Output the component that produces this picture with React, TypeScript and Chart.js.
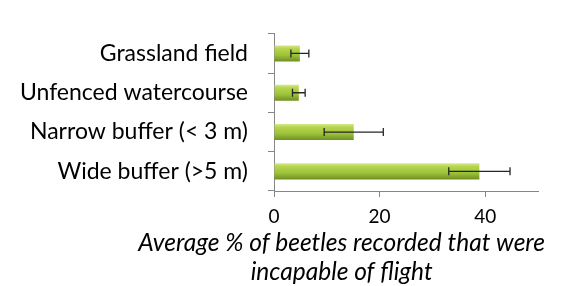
import React, { useEffect, useRef } from "react";
import { Chart, registerables } from "chart.js";

Chart.register(...registerables);

const categories = ["Grassland field", "Unfenced watercourse", "Narrow buffer (< 3 m)", "Wide buffer (>5 m)"];
const values = [4.9, 4.7, 15.1, 38.9];
const errors = [1.7, 1.2, 5.6, 5.8];
const xTicks = [0, 20, 40];
const titleLines = ["Average % of beetles recorded that were", "incapable of flight"];

const FONT = "Lato, 'Open Sans', sans-serif";
const BAR_PCT = 0.41;

const errorBarPlugin = {
  id: "errorBars",
  afterDatasetsDraw(chart: any) {
    const ctx = chart.ctx;
    const meta = chart.getDatasetMeta(0);
    const xs = chart.scales.x;
    ctx.save();
    ctx.strokeStyle = "#262626";
    ctx.lineWidth = 1.3;
    meta.data.forEach((bar: any, i: number) => {
      const y = bar.y;
      const x1 = xs.getPixelForValue(values[i] - errors[i]);
      const x2 = xs.getPixelForValue(values[i] + errors[i]);
      ctx.beginPath();
      ctx.moveTo(x1, y);
      ctx.lineTo(x2, y);
      ctx.moveTo(x1, y - 4);
      ctx.lineTo(x1, y + 4);
      ctx.moveTo(x2, y - 4);
      ctx.lineTo(x2, y + 4);
      ctx.stroke();
    });
    ctx.restore();
  },
};

const axisTitlePlugin = {
  id: "axisTitle",
  afterDraw(chart: any) {
    const ctx = chart.ctx;
    const xs = chart.scales.x;
    ctx.save();
    ctx.font = "italic 24.5px " + FONT;
    ctx.fillStyle = "#000";
    ctx.textAlign = "center";
    ctx.textBaseline = "middle";
    const w = Math.max(...titleLines.map((t) => ctx.measureText(t).width));
    let cx = (xs.left + xs.right) / 2;
    const maxCx = chart.width - 23 - w / 2;
    if (cx > maxCx) cx = maxCx;
    titleLines.forEach((t, i) => {
      ctx.fillText(t, cx, xs.bottom - 43 + i * 29);
    });
    ctx.restore();
  },
};

export default function App() {
  const ref = useRef<HTMLCanvasElement | null>(null);
  useEffect(() => {
    const canvas = ref.current!;
    const chart = new Chart(canvas, {
      type: "bar",
      data: {
        labels: categories,
        datasets: [
          {
            data: values,
            backgroundColor: (c: any) => {
              const ch = c.chart;
              const ys = ch.scales && ch.scales.y;
              if (!ys || c.dataIndex === undefined) return "#9cc23d";
              const yc = ys.getPixelForValue(c.dataIndex);
              const band = (ys.bottom - ys.top) / categories.length;
              const h = band * BAR_PCT;
              const y0 = yc - h / 2;
              if (!isFinite(y0) || !isFinite(h) || h <= 0) return "#9cc23d";
              const g = ch.ctx.createLinearGradient(0, y0, 0, y0 + h);
              g.addColorStop(0, "#d5ea88");
              g.addColorStop(0.2, "#b6d54e");
              g.addColorStop(0.6, "#9dc33a");
              g.addColorStop(1, "#6f8f22");
              return g;
            },
            borderWidth: 0,
            barPercentage: BAR_PCT,
            categoryPercentage: 1,
          },
        ],
      },
      options: {
        indexAxis: "y",
        animation: false,
        responsive: false,
        layout: { padding: { top: 15, right: 30, left: 0, bottom: 0 } },
        plugins: { legend: { display: false }, tooltip: { enabled: false } },
        scales: {
          x: {
            min: 0,
            max: 50,
            afterBuildTicks: (s: any) => {
              s.ticks = xTicks.map((v) => ({ value: v }));
            },
            afterFit: (s: any) => {
              s.height = 95;
            },
            grid: { drawOnChartArea: false, drawTicks: true, tickLength: 6, color: "#868686" },
            border: { color: "#868686", width: 1 },
            ticks: { color: "#000", font: { family: FONT, size: 19 }, padding: 8 },
          },
          y: {
            afterFit: (s: any) => {
              s.width = 274;
            },
            grid: { drawOnChartArea: false, drawTicks: true, tickLength: 6, color: "#868686", offset: true },
            border: { color: "#868686", width: 1 },
            ticks: { color: "#000", font: { family: FONT, size: 23 }, padding: 20 },
          },
        },
      },
      plugins: [errorBarPlugin, axisTitlePlugin],
    } as any);
    return () => chart.destroy();
  }, []);
  return (
    <div style={{ position: "fixed", left: 0, top: 0, width: 568, height: 286, background: "#fff" }}>
      <canvas ref={ref} width={568} height={286} />
    </div>
  );
}
